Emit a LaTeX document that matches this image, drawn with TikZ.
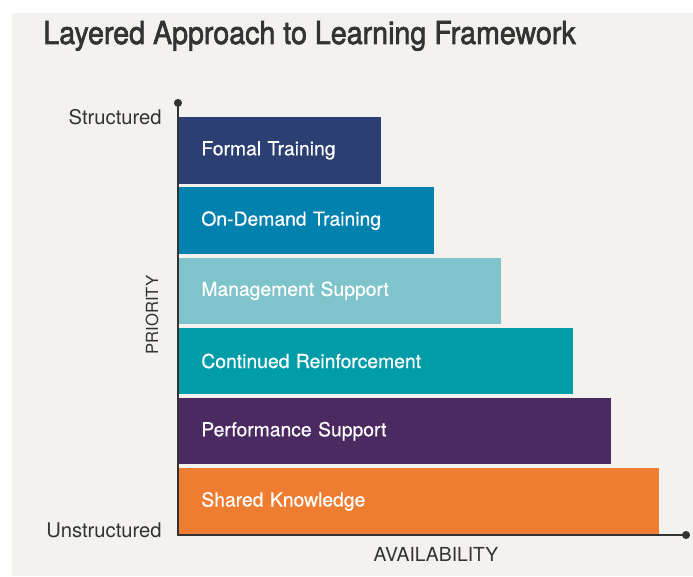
\documentclass[tikz,border=0pt]{standalone}
\usepackage{fontspec}
\setmainfont{TeX Gyre Heros}
\newfontfamily\titlefont[FakeStretch=0.905, FakeBold=2]{TeX Gyre Heros}
\newfontfamily\barfont[FakeBold=0.5]{TeX Gyre Heros}
\newfontfamily\axisfont{TeX Gyre Heros}
\usepackage{xcolor}
\usepackage{tikz}
\usetikzlibrary{arrows.meta, positioning, calc}
\definecolor{bgpaper}{HTML}{F3F2EE}
\definecolor{axisgray}{HTML}{333333}
\definecolor{navy}{HTML}{2B3F73}
\definecolor{ocean}{HTML}{0081AE}
\definecolor{aqua}{HTML}{7FC4CB}
\definecolor{teal}{HTML}{009CA8}
\definecolor{plum}{HTML}{4A2A60}
\definecolor{orange}{HTML}{EF7D31}
\tikzset{
    layer/.style={
        rectangle,
        draw=none,
        minimum height=1.33cm,
        inner xsep=0.46cm,
        inner ysep=0pt,
        align=left,
        text=white,
        font=\barfont\fontsize{11}{13}\selectfont
    },
    axislabel/.style={
        text=axisgray,
        inner sep=0pt,
        font=\axisfont\fontsize{11.5}{13}\selectfont
    },
    axisline/.style={
        draw=axisgray,
        line width=0.9pt,
        {Circle[length=4.5pt]}-{Circle[length=4.5pt]}
    }
}

\begin{document}
\begin{tikzpicture}

\useasboundingbox (0,0) rectangle (13.86,11.52);
\fill[bgpaper] (0.24,0) rectangle (13.86,11.26);

\node[anchor=base west, inner sep=0pt, text=axisgray, font=\titlefont\fontsize{18}{20}\selectfont] (title) at (0.86,10.64) {Layered Approach to Learning Framework};

\coordinate (origin) at (3.56,0.82);
\coordinate (ytop) at (3.56,9.54);
\coordinate (xend) at (13.80,0.82);

% layers, bottom to top
\node[layer, fill=orange, text width=9.62cm-0.92cm, anchor=south west] (sk) at (origin) {Shared Knowledge};
\node[layer, fill=plum, text width=8.66cm-0.92cm, above=0.06cm of sk.north west, anchor=south west] (ps) {Performance Support};
\node[layer, fill=teal, text width=7.90cm-0.92cm, above=0.06cm of ps.north west, anchor=south west] (cr) {Continued Reinforcement};
\node[layer, fill=aqua, text width=6.46cm-0.92cm, above=0.06cm of cr.north west, anchor=south west] (ms) {Management Support};
\node[layer, fill=ocean, text width=5.12cm-0.92cm, above=0.06cm of ms.north west, anchor=south west] (odt) {On-Demand Training};
\node[layer, fill=navy, text width=4.06cm-0.92cm, above=0.06cm of odt.north west, anchor=south west] (ft) {Formal Training};

\draw[axisline] (ytop) -- (origin) -- (xend);

\node[axislabel, anchor=east] (structured) at (3.24,9.18) {Structured};
\node[axislabel, anchor=east] (unstructured) at (3.24,0.92) {Unstructured};
\node[axislabel, rotate=90, font=\axisfont\fontsize{9.5}{11}\selectfont] (priority) at (3.04,5.22) {PRIORITY};
\node[axislabel, font=\axisfont\fontsize{11}{12}\selectfont] (availability) at (8.72,0.44) {AVAILABILITY};

\end{tikzpicture}
\end{document}
